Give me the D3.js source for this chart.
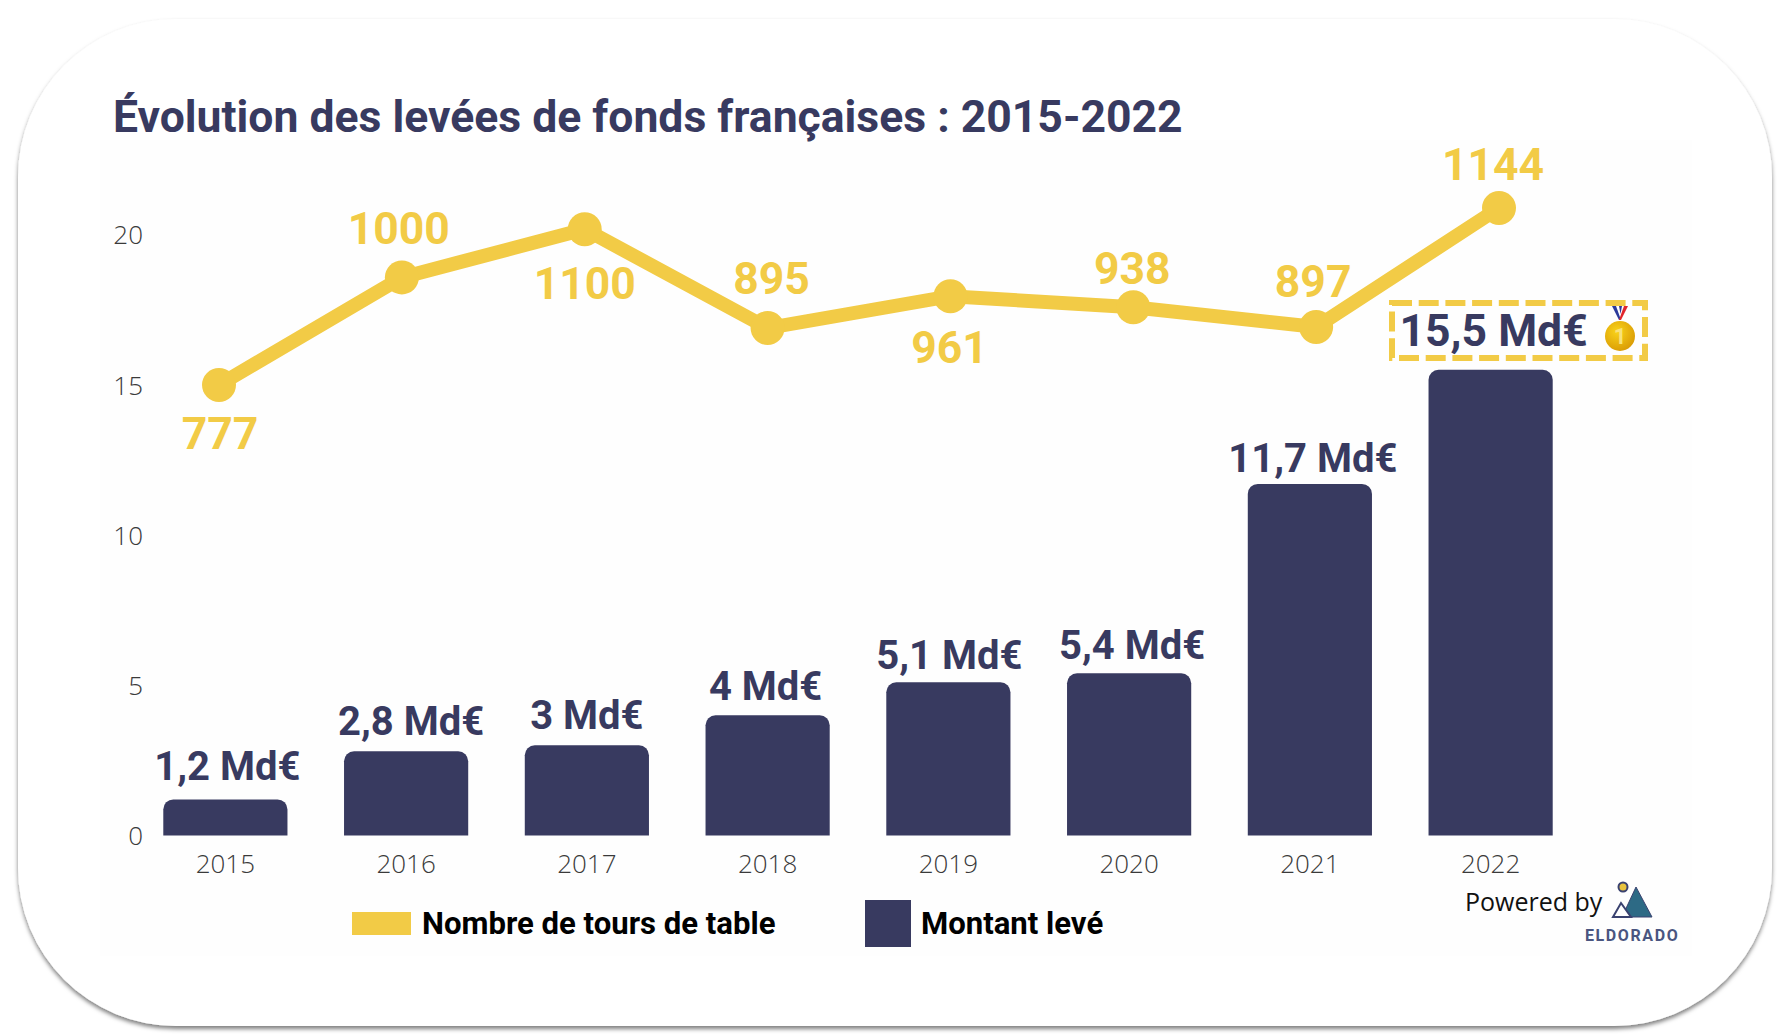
<!DOCTYPE html>
<html>
<head>
<meta charset="utf-8">
<script src="https://cdn.jsdelivr.net/npm/d3@7"></script>
<style>
html, body { margin: 0; padding: 0; background: #fff; }
svg { display: block; }
.tick text { font-family: "Open Sans"; font-weight: 300; fill: #3a3a3a; }
</style>
</head>
<body>
<div id="chart"></div>
<script>
const years = ['2015', '2016', '2017', '2018', '2019', '2020', '2021', '2022'];
const amounts = [1.2, 2.8, 3, 4, 5.1, 5.4, 11.7, 15.5];
const amountLabels = ['1,2 Md€', '2,8 Md€', '3 Md€', '4 Md€', '5,1 Md€', '5,4 Md€', '11,7 Md€', '15,5 Md€'];
const rounds = [777, 1000, 1100, 895, 961, 938, 897, 1144];
const yTicks = [0, 5, 10, 15, 20];

// label nudges, the original placed these by hand
const roundNudge = [[1, 64], [-3, -33], [0, 70], [4, -34], [-1, 67], [-1, -23], [-3, -30], [-6, -28]];
const amountNudge = [[2, -19], [5, -16], [0, -16], [-2, -15], [1, -13], [3, -14], [3, -12], [3, -24]];

const navy = '#383a60';
const gold = '#f2cb46';
const width = 1788;
const height = 1036;

const svg = d3.select('#chart').append('svg')
    .attr('width', width)
    .attr('height', height);

const defs = svg.append('defs');
const shadow = defs.append('filter')
    .attr('id', 'shadow')
    .attr('x', '-5%').attr('y', '-5%')
    .attr('width', '110%').attr('height', '110%');
shadow.append('feDropShadow')
    .attr('dx', 0).attr('dy', 3)
    .attr('stdDeviation', 2)
    .attr('flood-color', '#000')
    .attr('flood-opacity', 0.5);
const medalFill = defs.append('radialGradient')
    .attr('id', 'medalFill')
    .attr('cx', '40%').attr('cy', '35%').attr('r', '70%');
medalFill.append('stop').attr('offset', '0%').attr('stop-color', '#f9d31a');
medalFill.append('stop').attr('offset', '100%').attr('stop-color', '#d99a04');

// card
svg.append('rect')
    .attr('x', 18).attr('y', 19)
    .attr('width', 1754).attr('height', 1007)
    .attr('rx', 158).attr('ry', 158)
    .attr('fill', '#fff')
    .attr('filter', 'url(#shadow)');
svg.append('rect')
    .attr('x', 100).attr('y', 140)
    .attr('width', 1592).attr('height', 816)
    .attr('fill', '#fefefe');

svg.append('text')
    .attr('x', 113).attr('y', 132)
    .attr('font-family', 'Roboto').attr('font-weight', 700).attr('font-size', 44.5)
    .attr('fill', navy)
    .text('Évolution des levées de fonds françaises : 2015-2022');

const x = d3.scaleBand()
    .domain(years)
    .range([135, 1581])
    .paddingInner(0.313)
    .paddingOuter(0.1565);
const xLine = d3.scalePoint()
    .domain(years)
    .range([219, 1499]);
const y = d3.scaleLinear()
    .domain([0, 20])
    .range([835.5, 234.5]);
const yRounds = d3.scaleLinear()
    .domain([0, 1200])
    .range([759.5, 181]);

const yAxis = d3.axisLeft(y).tickValues(yTicks).tickSize(0).tickPadding(0);
svg.append('g')
    .attr('transform', 'translate(143,1)')
    .call(yAxis)
    .call(g => g.select('.domain').remove())
    .call(g => g.selectAll('text').attr('font-size', 26).style('font-size', '26px'));

const xAxis = d3.axisBottom(x).tickSize(0).tickPadding(20);
svg.append('g')
    .attr('transform', 'translate(0,835)')
    .call(xAxis)
    .call(g => g.select('.domain').remove())
    .call(g => g.selectAll('text').attr('font-size', 26).style('font-size', '26px'));

// bars, top corners rounded
const barPath = (year, value) => {
    const r = 10;
    const x0 = x(year);
    const x1 = x0 + x.bandwidth();
    const top = y(value);
    const path = d3.path();
    path.moveTo(x0, y(0));
    path.lineTo(x0, top + r);
    path.arcTo(x0, top, x0 + r, top, r);
    path.lineTo(x1 - r, top);
    path.arcTo(x1, top, x1, top + r, r);
    path.lineTo(x1, y(0));
    path.closePath();
    return path.toString();
};
svg.append('g').selectAll('path')
    .data(amounts)
    .join('path')
    .attr('d', (d, i) => barPath(years[i], d))
    .attr('fill', navy);

svg.append('g').selectAll('text')
    .data(amountLabels)
    .join('text')
    .attr('x', (d, i) => x(years[i]) + x.bandwidth() / 2 + amountNudge[i][0])
    .attr('y', (d, i) => y(amounts[i]) + amountNudge[i][1])
    .attr('text-anchor', 'middle')
    .attr('font-family', 'Roboto').attr('font-weight', 700)
    // the 2022 record is set bigger than the rest
    .attr('font-size', (d, i) => i === amounts.length - 1 ? 44.5 : 40)
    .attr('fill', navy)
    .text(d => d);

// line
const line = d3.line()
    .x((d, i) => xLine(years[i]))
    .y(d => yRounds(d));
svg.append('path')
    .datum(rounds)
    .attr('d', line)
    .attr('fill', 'none')
    .attr('stroke', gold)
    .attr('stroke-width', 14);
svg.append('g').selectAll('circle')
    .data(rounds)
    .join('circle')
    .attr('cx', (d, i) => xLine(years[i]))
    .attr('cy', d => yRounds(d))
    .attr('r', 17)
    .attr('fill', gold);
svg.append('g').selectAll('text')
    .data(rounds)
    .join('text')
    .attr('x', (d, i) => xLine(years[i]) + roundNudge[i][0])
    .attr('y', (d, i) => yRounds(d) + roundNudge[i][1])
    .attr('text-anchor', 'middle')
    .attr('font-family', 'Roboto').attr('font-weight', 700).attr('font-size', 44.5)
    .attr('fill', gold)
    .text(d => d);

// record box + medal
svg.append('rect')
    .attr('x', 1392).attr('y', 303)
    .attr('width', 253).attr('height', 55)
    .attr('fill', 'none')
    .attr('stroke', gold)
    .attr('stroke-width', 6)
    .attr('stroke-dasharray', '20 6.7');
const medal = svg.append('g').attr('transform', 'translate(1620,336)');
medal.append('path').attr('d', 'M-8,-30 L-4,-30 L1,-16 L-1,-16 Z').attr('fill', '#2b3a9b');
medal.append('path').attr('d', 'M-1,-30 L2,-30 L0.5,-22 Z').attr('fill', '#2b3a9b');
medal.append('path').attr('d', 'M8,-30 L4,-30 L-1,-16 L1,-16 Z').attr('fill', '#e0262c');
medal.append('circle').attr('r', 15).attr('fill', 'url(#medalFill)');
medal.append('text')
    .attr('text-anchor', 'middle').attr('y', 8)
    .attr('font-family', 'Roboto').attr('font-weight', 700).attr('font-size', 22)
    .attr('fill', '#f8e27a')
    .text('1');

// legend
svg.append('rect')
    .attr('x', 352).attr('y', 912)
    .attr('width', 59).attr('height', 23)
    .attr('fill', gold);
svg.append('text')
    .attr('x', 422).attr('y', 934)
    .attr('font-family', 'Roboto').attr('font-weight', 700).attr('font-size', 31.1)
    .attr('fill', '#000')
    .text('Nombre de tours de table');
svg.append('rect')
    .attr('x', 865).attr('y', 900)
    .attr('width', 46).attr('height', 47)
    .attr('fill', navy);
svg.append('text')
    .attr('x', 921).attr('y', 934)
    .attr('font-family', 'Roboto').attr('font-weight', 700).attr('font-size', 31.1)
    .attr('fill', '#000')
    .text('Montant levé');

// powered by + logo
svg.append('text')
    .attr('x', 1465).attr('y', 911)
    .attr('font-family', '"Open Sans"').attr('font-size', 25)
    .attr('fill', '#111')
    .text('Powered by');
const logo = svg.append('g');
logo.append('path').attr('d', 'M1636,887 L1652,917 L1622,917 Z').attr('fill', '#2d6a85').attr('stroke', '#3a4270').attr('stroke-width', 1);
logo.append('path').attr('d', 'M1621,903 L1631,917 L1613,917 Z').attr('fill', '#fff').attr('stroke', '#3a4270').attr('stroke-width', 2);
logo.append('circle').attr('cx', 1623).attr('cy', 887).attr('r', 4.5).attr('fill', '#e8c33f').attr('stroke', '#3a4270').attr('stroke-width', 2);
svg.append('text')
    .attr('x', 1585).attr('y', 941)
    .attr('font-family', 'Roboto').attr('font-weight', 700).attr('font-size', 16)
    .attr('letter-spacing', 1.6)
    .attr('fill', '#4a5580')
    .text('ELDORADO');
</script>
</body>
</html>
